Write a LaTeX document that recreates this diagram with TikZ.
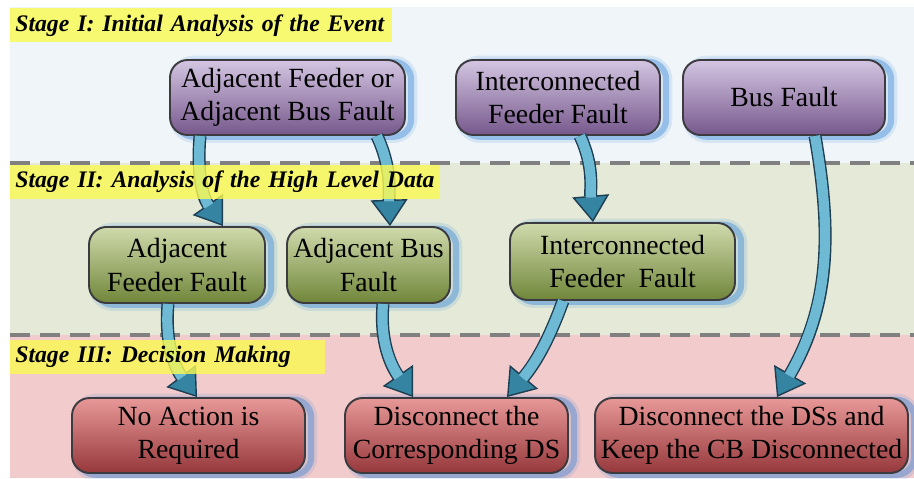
\documentclass[tikz,border=0pt]{standalone}
\usepackage{fontspec}
\setmainfont{Liberation Serif}
\newfontfamily\boxfont{Liberation Serif}
\usetikzlibrary{arrows.meta}

% band and box colours
\definecolor{bandone}{RGB}{239,245,249}
\definecolor{bandtwo}{RGB}{228,233,216}
\definecolor{bandthree}{RGB}{242,204,204}
\definecolor{labelyellow}{RGB}{250,250,80}
\definecolor{dashgrey}{RGB}{128,128,128}
\definecolor{boxline}{RGB}{60,60,64}
\definecolor{glow}{RGB}{30,120,215}
\definecolor{evtop}{RGB}{212,198,226}
\definecolor{evbot}{RGB}{118,88,140}
\definecolor{datop}{RGB}{208,218,172}
\definecolor{dabot}{RGB}{112,134,58}
\definecolor{detop}{RGB}{232,152,152}
\definecolor{debot}{RGB}{150,56,60}
\definecolor{flowlight}{RGB}{110,185,212}
\definecolor{flowdark}{RGB}{52,132,162}
\definecolor{flowedge}{RGB}{30,62,82}

\begin{document}
\begin{tikzpicture}[x=0.02cm, y=0.02cm,
    box/.style={rectangle, draw=boxline, line width=1.1pt, rounded corners=10pt,
      align=center, inner sep=2pt, minimum height=1.5cm,
      font=\boxfont\fontsize{15.8}{18.8}\selectfont,
      preaction={draw=glow, draw opacity=.12, line width=7pt,
        transform canvas={xshift=3.5pt, yshift=-1pt}},
      preaction={draw=glow, draw opacity=.35, line width=3.5pt,
        transform canvas={xshift=3.5pt, yshift=-1pt}}},
    event/.style={box, top color=evtop, bottom color=evbot},
    data/.style={box, top color=datop, bottom color=dabot},
    decision/.style={box, top color=detop, bottom color=debot},
    stagelabel/.style={anchor=north west, fill=labelyellow, fill opacity=.8,
      text opacity=1, minimum height=0.68cm, inner xsep=0.1cm, align=left,
      font=\boxfont\fontsize{13.5}{16}\selectfont\bfseries\itshape},
    flow/.style={line width=7.4pt, draw=flowedge,
      -{Triangle[length=15pt, width=21pt, line width=0.8pt, fill=flowdark]},
      postaction={draw=flowlight, line width=5.8pt, -, shorten >=14pt}},
    divider/.style={draw=dashgrey, line width=2.3pt, dash pattern=on 0.4cm off 0.2cm}]

\useasboundingbox (0,0) rectangle (914,478);

% stage bands
\fill[bandone] (10,315) rectangle (914,471);
\fill[bandtwo] (10,143) rectangle (914,315);
\fill[bandthree] (10,0) rectangle (914,143);
\draw[divider] (10,315) -- (914,315);
\draw[divider] (10,143) -- (914,143);

% stage I
\node[event, minimum width=4.7cm] (adjfb) at (287.5,380.5) {Adjacent Feeder or\\Adjacent Bus Fault};
\node[event, minimum width=4.08cm] (icf) at (558,380.5) {Interconnected\\Feeder Fault};
\node[event, minimum width=4.04cm] (bus) at (784,380.5) {Bus Fault};

% stage II
\node[data, minimum width=3.52cm, minimum height=1.52cm] (adjf) at (177,213) {Adjacent\\Feeder Fault};
\node[data, minimum width=3.26cm, minimum height=1.52cm] (adjb) at (368.5,213) {Adjacent Bus\\Fault};
\node[data, minimum width=4.5cm, minimum height=1.54cm] (icfd) at (622.5,216.5) {Interconnected\\Feeder~~Fault};

% stage III
\node[decision, minimum width=4.66cm] (noact) at (188.5,42.5) {No Action is\\Required};
\node[decision, minimum width=4.46cm] (discds) at (456.5,42.5) {Disconnect the\\Corresponding DS};
\node[decision, minimum width=6.26cm] (discall) at (751.5,42.5) {Disconnect the DSs and\\Keep the CB Disconnected};

% flows
\draw[flow] ([xshift=-1.75cm]adjfb.south) to[out=-95, in=125] ([xshift=0.92cm]adjf.north);
\draw[flow] ([xshift=1.79cm]adjfb.south) to[out=-65, in=92] ([xshift=0.43cm]adjb.north);
\draw[flow] ([xshift=0.44cm]icf.south) to[out=-65, in=95] ([xshift=-0.59cm]icfd.north);
\draw[flow] ([xshift=0.62cm]bus.south) to[out=-80, in=60] ([xshift=0.51cm]discall.north);
\draw[flow] ([xshift=-0.18cm]adjf.south) to[out=-95, in=127] ([xshift=0.17cm]noact.north);
\draw[flow] ([xshift=0.29cm]adjb.south) to[out=-95, in=125] ([xshift=-0.87cm]discds.north);
\draw[flow] ([xshift=-1.19cm]icfd.south) to[out=-110, in=50] ([xshift=1.01cm]discds.north);

% stage labels
\node[stagelabel, text width=7.43cm] (stone) at (10,470) {Stage I: Initial Analysis of the Event};
\node[stagelabel, text width=8.39cm, minimum height=0.66cm] (sttwo) at (10,313) {Stage II: Analysis of the High Level Data};
\node[stagelabel, text width=6.09cm, minimum height=0.66cm] (stthree) at (10,138) {Stage III: Decision Making};
\end{tikzpicture}
\end{document}
